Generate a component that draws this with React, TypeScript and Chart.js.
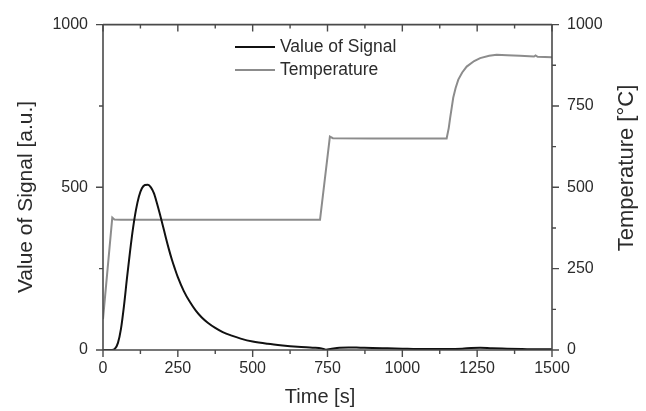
import React, { useEffect, useRef } from "react";
import { Chart, registerables } from "chart.js";

Chart.register(...registerables);

const signalTime = [0, 20, 30, 40, 50, 60, 70, 80, 90, 100, 110, 120, 130, 140, 150, 160, 170, 180, 190, 200, 210, 220, 230, 240, 250, 270, 290, 310, 330, 350, 375, 400, 430, 460, 500, 550, 600, 650, 700, 730, 745, 760, 790, 820, 860, 900, 950, 1000, 1050, 1100, 1150, 1200, 1230, 1260, 1300, 1350, 1400, 1450, 1500];
const signalValue = [0, 0, 0, 4, 22, 65, 135, 220, 300, 372, 430, 472, 497, 507, 508, 500, 482, 452, 418, 382, 345, 310, 278, 250, 224, 181, 148, 121, 100, 84, 68, 55, 44, 35, 26, 19, 14, 10, 7, 5, 1, 3, 7, 8, 7, 6, 5, 4, 3, 3, 3, 4, 6, 7, 5, 4, 3, 2, 2];

const tempTime = [0, 31, 38, 60, 200, 400, 600, 725, 758, 768, 900, 1050, 1148, 1155, 1160, 1165, 1170, 1178, 1187, 1200, 1215, 1240, 1260, 1290, 1315, 1350, 1393, 1440, 1445, 1452, 1500];
const tempValue = [95, 407, 401, 400, 400, 400, 400, 400, 656, 651, 650, 650, 650, 682, 715, 745, 775, 805, 831, 853, 871, 888, 897, 904, 907, 906, 904, 902, 905, 901, 900];

const xTickValues = [0, 250, 500, 750, 1000, 1250, 1500];
const signalTickValues = [0, 500, 1000];
const tempTickValues = [0, 250, 500, 750, 1000];

const seriesNames = ["Value of Signal", "Temperature"];
const xTitle = "Time [s]";
const yTitle = "Value of Signal [a.u.]";
const y1Title = "Temperature [°C]";

const FONT = "'Liberation Sans', Arial, sans-serif";
const TEXT = "#2b2b2b";
const AXIS = "#4a4a4a";
const SIGNAL_COLOR = "#111111";
const TEMP_COLOR = "#8c8c8c";

const plainLabel = (v: any) => String(v);

const framePlugin = {
  id: "frame",
  afterDraw(chart: any) {
    const { ctx, chartArea } = chart;
    const { left, right, top, bottom } = chartArea;
    const xs = chart.scales.x;
    const ys = chart.scales.y;
    const y1 = chart.scales.y1;
    ctx.save();
    ctx.strokeStyle = AXIS;
    ctx.lineWidth = 1.6;
    ctx.beginPath();
    ctx.moveTo(left, top);
    ctx.lineTo(right, top);
    ctx.moveTo(left, bottom);
    ctx.lineTo(right, bottom);
    ctx.moveTo(left, top);
    ctx.lineTo(left, bottom);
    ctx.moveTo(right, top);
    ctx.lineTo(right, bottom);
    ctx.stroke();

    ctx.lineWidth = 1.4;
    ctx.beginPath();
    for (let v = 0; v <= 1500; v += 125) {
      const major = v % 250 === 0;
      const len = major ? 7 : 4;
      const px = xs.getPixelForValue(v);
      ctx.moveTo(px, bottom);
      ctx.lineTo(px, bottom + len);
      ctx.moveTo(px, top);
      ctx.lineTo(px, top + len);
    }
    for (let v = 0; v <= 1000; v += 250) {
      const major = v % 500 === 0;
      const len = major ? 7 : 4;
      const py = ys.getPixelForValue(v);
      ctx.moveTo(left, py);
      ctx.lineTo(left - len, py);
    }
    for (let v = 0; v <= 1000; v += 125) {
      const major = v % 250 === 0;
      const len = major ? 7 : 4;
      const py = y1.getPixelForValue(v);
      ctx.moveTo(right, py);
      ctx.lineTo(right + len, py);
    }
    ctx.stroke();

    ctx.fillStyle = TEXT;
    ctx.textAlign = "center";
    ctx.textBaseline = "middle";
    ctx.font = `20px ${FONT}`;
    ctx.fillText(xTitle, 320, 397);

    ctx.save();
    ctx.translate(26, 197);
    ctx.rotate(-Math.PI / 2);
    ctx.font = `21px ${FONT}`;
    ctx.fillText(yTitle, 0, 0);
    ctx.restore();

    ctx.save();
    ctx.translate(627, 168);
    ctx.rotate(-Math.PI / 2);
    ctx.font = `22px ${FONT}`;
    ctx.fillText(y1Title, 0, 0);
    ctx.restore();

    const colors = [SIGNAL_COLOR, TEMP_COLOR];
    ctx.font = `17.5px ${FONT}`;
    ctx.textAlign = "left";
    seriesNames.forEach((name, i) => {
      const y = 47 + i * 23;
      ctx.strokeStyle = colors[i];
      ctx.lineWidth = 2;
      ctx.beginPath();
      ctx.moveTo(235, y);
      ctx.lineTo(275, y);
      ctx.stroke();
      ctx.fillStyle = TEXT;
      ctx.fillText(name, 280, y);
    });
    ctx.restore();
  },
};

export default function App() {
  const canvasRef = useRef<HTMLCanvasElement | null>(null);

  useEffect(() => {
    const canvas = canvasRef.current;
    if (!canvas) return;
    const signalData = signalTime.map((t, i) => ({ x: t, y: signalValue[i] }));
    const tempData = tempTime.map((t, i) => ({ x: t, y: tempValue[i] }));
    const chart = new Chart(canvas, {
      type: "line",
      data: {
        datasets: [
          {
            label: seriesNames[0],
            data: signalData,
            borderColor: SIGNAL_COLOR,
            borderWidth: 2,
            pointRadius: 0,
            cubicInterpolationMode: "monotone",
            yAxisID: "y",
            order: 1,
          },
          {
            label: seriesNames[1],
            data: tempData,
            borderColor: TEMP_COLOR,
            borderWidth: 2,
            pointRadius: 0,
            tension: 0,
            yAxisID: "y1",
            order: 2,
          },
        ],
      },
      options: {
        responsive: false,
        animation: false,
        layout: { padding: { top: 21, left: 0, right: 0, bottom: 0 } },
        plugins: {
          legend: { display: false },
          tooltip: { enabled: false },
        },
        scales: {
          x: {
            type: "linear",
            position: "bottom",
            min: 0,
            max: 1500,
            afterBuildTicks: (s: any) => {
              s.ticks = xTickValues.map((v) => ({ value: v }));
            },
            afterFit: (s: any) => {
              s.height = 61;
            },
            ticks: { font: { size: 16, family: FONT }, color: TEXT, padding: 9, maxRotation: 0, callback: plainLabel },
            grid: { display: false, drawTicks: false },
            border: { display: false },
          },
          y: {
            type: "linear",
            position: "left",
            min: 0,
            max: 1000,
            afterBuildTicks: (s: any) => {
              s.ticks = signalTickValues.map((v) => ({ value: v }));
            },
            afterFit: (s: any) => {
              s.width = 103;
            },
            ticks: { font: { size: 16, family: FONT }, color: TEXT, padding: 15, callback: plainLabel },
            grid: { display: false, drawTicks: false },
            border: { display: false },
          },
          y1: {
            type: "linear",
            position: "right",
            min: 0,
            max: 1000,
            afterBuildTicks: (s: any) => {
              s.ticks = tempTickValues.map((v) => ({ value: v }));
            },
            afterFit: (s: any) => {
              s.width = 94;
            },
            ticks: { font: { size: 16, family: FONT }, color: TEXT, padding: 15, callback: plainLabel },
            grid: { display: false, drawTicks: false },
            border: { display: false },
          },
        },
      },
      plugins: [framePlugin],
    });
    return () => chart.destroy();
  }, []);

  return (
    <div style={{ position: "absolute", left: 0, top: 0, width: 646, height: 411, background: "#fff" }}>
      <canvas ref={canvasRef} width={646} height={411} style={{ display: "block" }} />
    </div>
  );
}
